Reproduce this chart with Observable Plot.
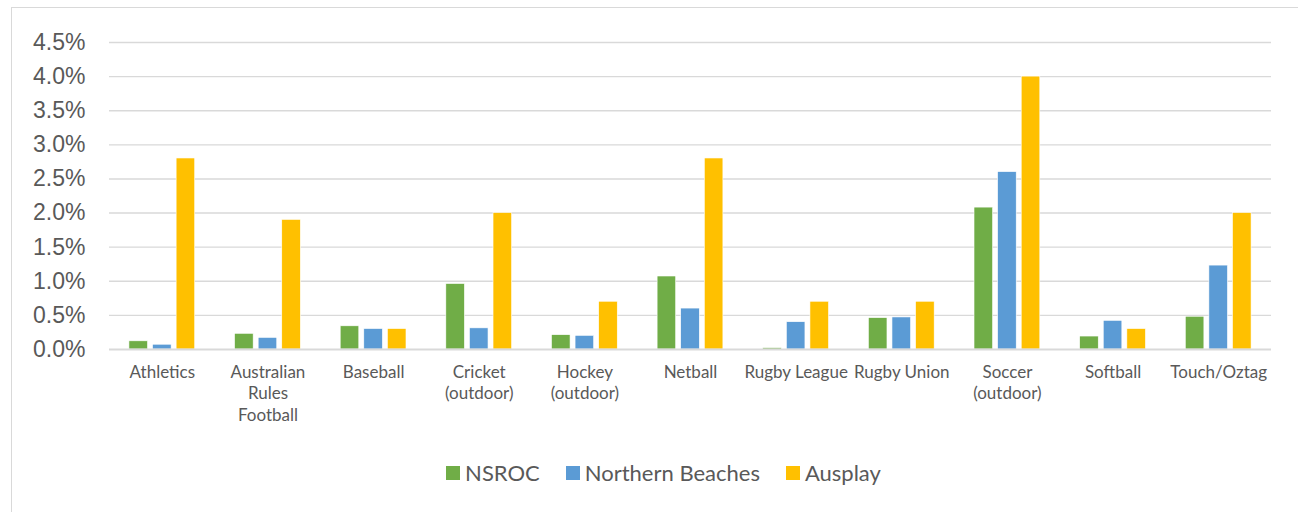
<!DOCTYPE html>
<html>
<head>
<meta charset="utf-8">
<script src="https://cdn.jsdelivr.net/npm/d3@7"></script>
<script src="https://cdn.jsdelivr.net/npm/@observablehq/plot@0.6"></script>
<style>
  html, body { margin: 0; padding: 0; background: #fff; }
  #frame {
    position: absolute; left: 11px; top: 7px; width: 1300px; height: 520px;
    border-left: 1.5px solid #d9d9d9; border-top: 1.5px solid #d9d9d9;
    box-sizing: border-box;
  }
  #chart { position: absolute; left: -1.5px; top: 0; }
  #legend {
    position: absolute; left: 8px; width: 1287px; top: 451px;
    display: flex; justify-content: center; align-items: center; gap: 26px;
    font-family: Lato, "Open Sans", sans-serif; font-size: 22px; color: #595959;
  }
  #legend .item { display: flex; align-items: center; gap: 5px; }
  #legend .sw { width: 14px; height: 14px; display: inline-block; }
</style>
</head>
<body>
<div id="frame">
  <div id="chart"></div>
  <div id="legend"></div>
</div>
<script>
// Participation rate (%) by sport
const categories = ["Athletics", "Australian Rules Football", "Baseball", "Cricket (outdoor)", "Hockey (outdoor)", "Netball", "Rugby League", "Rugby Union", "Soccer (outdoor)", "Softball", "Touch/Oztag"];
const tickLabels = ["Athletics", "Australian\nRules\nFootball", "Baseball", "Cricket\n(outdoor)", "Hockey\n(outdoor)", "Netball", "Rugby League", "Rugby Union", "Soccer\n(outdoor)", "Softball", "Touch/Oztag"];
const series = ["NSROC", "Northern Beaches", "Ausplay"];
const nsroc = [0.12, 0.23, 0.34, 0.96, 0.21, 1.07, 0.02, 0.46, 2.08, 0.19, 0.48];
const northernBeaches = [0.07, 0.17, 0.30, 0.31, 0.20, 0.60, 0.40, 0.47, 2.60, 0.42, 1.23];
const ausplay = [2.8, 1.9, 0.3, 2.0, 0.7, 2.8, 0.7, 0.7, 4.0, 0.3, 2.0];
const colors = ["#70AD47", "#5B9BD5", "#FFC000"];
const yTicks = [0, 0.5, 1, 1.5, 2, 2.5, 3, 3.5, 4, 4.5];

const valuesBySeries = [nsroc, northernBeaches, ausplay];
const rows = series.flatMap((s, i) =>
  categories.map((c, j) => ({category: c, series: s, value: valuesBySeries[i][j]}))
);

const width = 1287, marginLeft = 98, marginRight = 27;
const band = (width - marginLeft - marginRight) / categories.length;
const barWidth = 18.6, barStep = 23.6;
const inset = (band - barWidth) / 2;

const chart = Plot.plot({
  width,
  height: 430,
  marginLeft,
  marginRight,
  marginTop: 34,
  marginBottom: 89,
  style: {fontFamily: "Lato, 'Open Sans', sans-serif", color: "#595959", background: "transparent"},
  x: {domain: categories, padding: 0, round: false, axis: null, label: null},
  y: {domain: [0, 4.5], axis: null, label: null},
  color: {domain: series, range: colors},
  marks: [
    Plot.ruleY(yTicks.filter(d => d > 0), {stroke: "#d9d9d9", strokeWidth: 1.4}),
    ...series.map((s, k) =>
      Plot.barY(rows.filter(r => r.series === s), {
        x: "category", y: "value", fill: "series",
        dx: (k - 1) * barStep, insetLeft: inset, insetRight: inset,
        stroke: "#fff", strokeWidth: 0.6
      })
    ),
    Plot.ruleY([0], {stroke: "#d9d9d9", strokeWidth: 1.8}),
    Plot.axisY({
      ticks: yTicks, tickSize: 0, tickPadding: 24, label: null,
      tickFormat: d => d.toFixed(1) + "%",
      fontSize: 23, fontFamily: "'Liberation Sans', Arial, sans-serif", fill: "#595959"
    }),
    Plot.axisX({
      tickSize: 0, tickPadding: 13, fontSize: 17, lineHeight: 1.26, fill: "#595959", label: null,
      tickFormat: d => tickLabels[categories.indexOf(d)]
    })
  ]
});
document.getElementById("chart").appendChild(chart);

const legend = d3.select("#legend");
series.forEach((s, i) => {
  const item = legend.append("div").attr("class", "item");
  item.append("span").attr("class", "sw").style("background", colors[i]);
  item.append("span").text(s);
});
</script>
</body>
</html>
